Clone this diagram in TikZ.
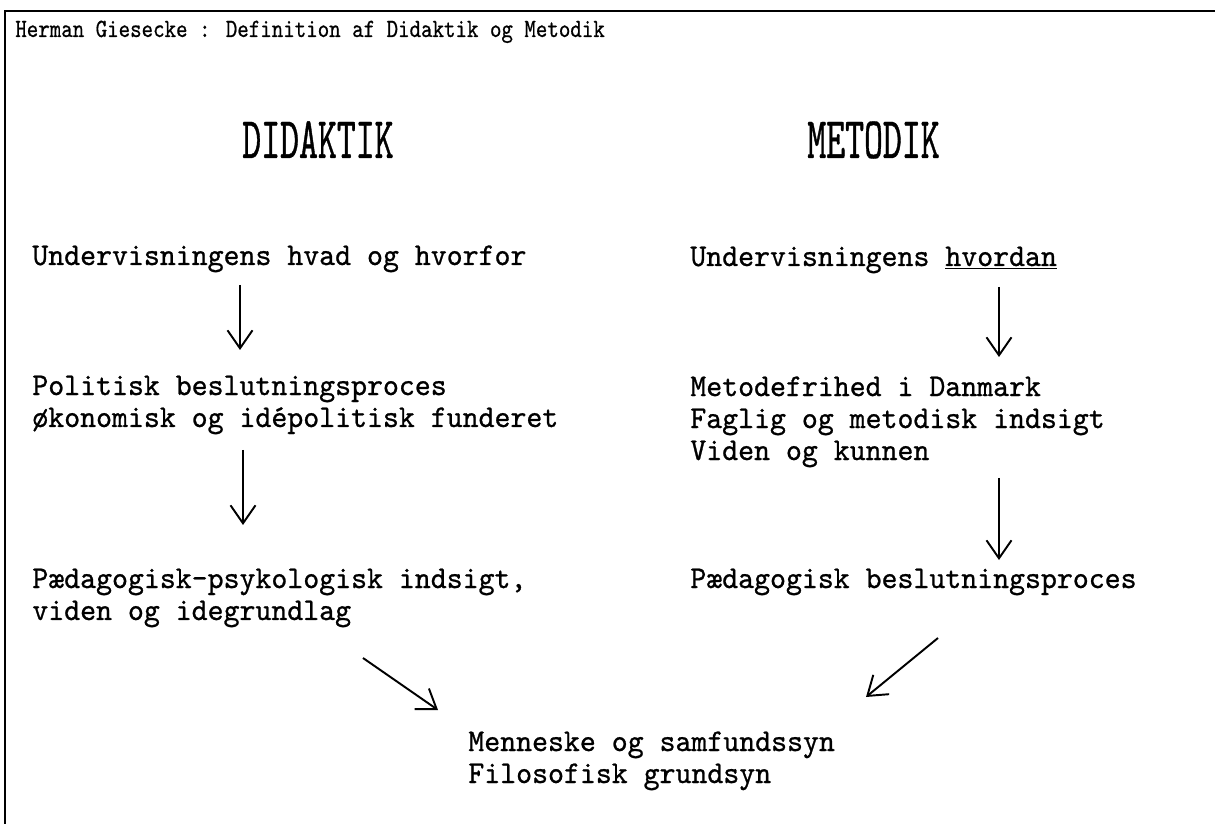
\documentclass[tikz,border=0pt]{standalone}
\usepackage{fontspec}
\usepackage{tikz}
\usetikzlibrary{arrows.meta,calc}
\newfontfamily\typefont[FakeStretch=0.96,FakeBold=0.8]{lmmono10-regular.otf}
\newfontfamily\headfont[FakeStretch=0.61,FakeBold=0.6]{lmmono10-regular.otf}
\newfontfamily\titlefont[FakeStretch=0.83,FakeBold=0.6]{lmmono10-regular.otf}

\begin{document}
\begin{tikzpicture}[x=0.02cm,y=-0.02cm,
        txt/.style={anchor=base west,inner sep=0pt,align=left,font=\typefont\fontsize{18pt}{18.2pt}\selectfont},
        head/.style={anchor=base west,inner sep=0pt,font=\headfont\fontsize{33.6pt}{34pt}\selectfont},
        flow/.style={line width=1.1pt,-{Straight Barb[length=3.6mm,width=5mm]}}]
            \useasboundingbox (0,0) rectangle (1215,824);
            \draw[line width=1pt] (5,824) |- (1215,11);
            \node[anchor=base west,inner sep=0pt,font=\titlefont\fontsize{15pt}{15pt}\selectfont] (title) at (15,37) {Herman Giesecke : Definition af Didaktik og Metodik};
            \node[head] (didaktik) at (242,158) {DIDAKTIK};
            \node[head] (metodik) at (807,158) {METODIK};
            \node[txt] (hvad) at (32,265) {Undervisningens hvad og hvorfor};
            \node[txt] (hvordan) at (690,266) {Undervisningens \underline{hvordan}};
            \node[txt] (politisk) at (32,427) {Politisk beslutningsproces\\økonomisk og idépolitisk funderet};
            \node[txt] (frihed) at (690,460) {Metodefrihed i Danmark\\Faglig og metodisk indsigt\\Viden og kunnen};
            \node[txt] (paedpsyk) at (32,620) {Pædagogisk-psykologisk indsigt,\\viden og idegrundlag};
            \node[txt] (paedbeslut) at (690,588) {Pædagogisk beslutningsproces};
            \node[txt] (menneske) at (468,783) {Menneske og samfundssyn\\Filosofisk grundsyn};
            \draw[flow] ([shift={(208,20)}]hvad.base west) -- ([shift={(208,-77)}]politisk.base west);
            \draw[flow] ([shift={(211,23)}]politisk.base west) -- ([shift={(211,-95)}]paedpsyk.base west);
            \draw[flow] ([shift={(309,21)}]hvordan.base west) -- ([shift={(309,-103)}]frihed.base west);
            \draw[flow] ([shift={(309,18)}]frihed.base west) -- ([shift={(309,-28)}]paedbeslut.base west);
            \draw[flow] ([shift={(331,38)}]paedpsyk.base west) -- ([shift={(-30,-73)}]menneske.base west);
            \draw[flow] ([shift={(248,50)}]paedbeslut.base west) -- ([shift={(398,-86)}]menneske.base west);
        \end{tikzpicture}
\end{document}
